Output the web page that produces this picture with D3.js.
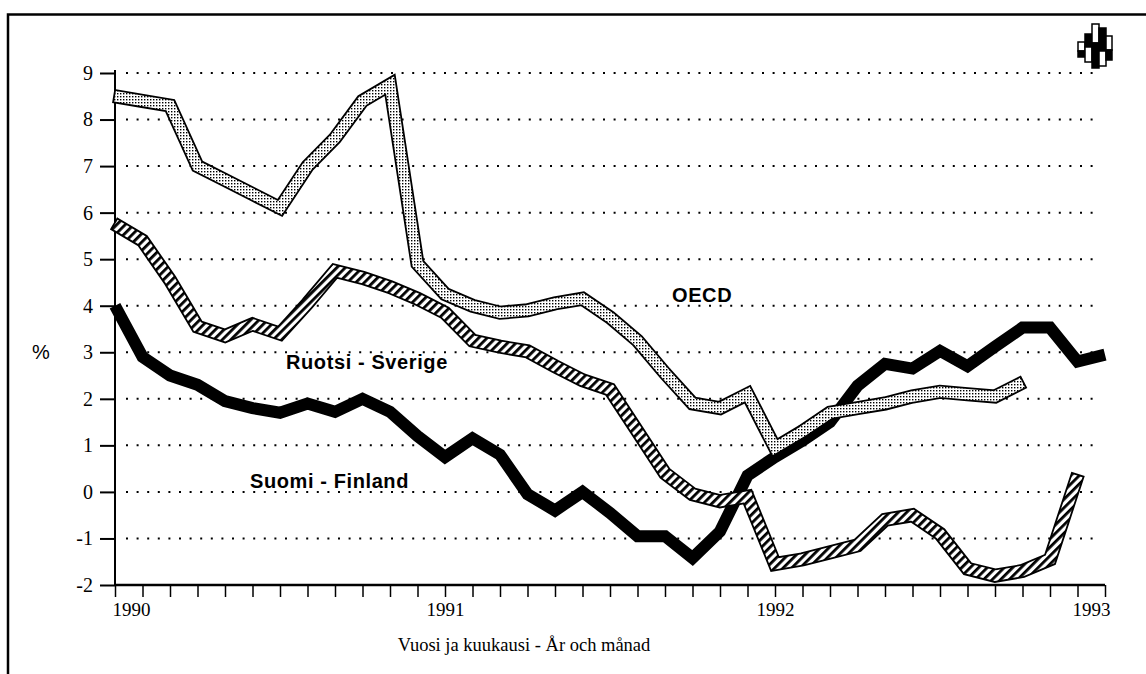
<!DOCTYPE html>
<html>
<head>
<meta charset="utf-8">
<script src="https://cdn.jsdelivr.net/npm/d3@7/dist/d3.min.js"></script>
<style>
  body { margin: 0; background: #fff; }
</style>
</head>
<body>
<div id="chart"></div>
<script>
// monthly values, Jan 1990 ... Jan 1993
const years = [1990, 1991, 1992, 1993];
const yTicks = [-2, -1, 0, 1, 2, 3, 4, 5, 6, 7, 8, 9];
const gridValues = [-1, 0, 1, 2, 3, 4, 5, 6, 7, 8, 9];

const suomi = [4.0, 2.9, 2.5, 2.3, 1.95, 1.8, 1.7, 1.9, 1.72, 2.0, 1.72, 1.2,
  0.75, 1.15, 0.8, -0.05, -0.4, 0.0, -0.45, -0.95, -0.95, -1.42, -0.85, 0.35,
  0.75, 1.1, 1.5, 2.28, 2.75, 2.65, 3.03, 2.7, 3.12, 3.53, 3.53, 2.8, 2.95];

const ruotsi = [5.75, 5.4, 4.55, 3.55, 3.35, 3.6, 3.4, 4.05, 4.75, 4.6, 4.4, 4.15,
  3.85, 3.25, 3.12, 3.02, 2.7, 2.4, 2.2, 1.3, 0.4, -0.05, -0.2, -0.1,
  -1.55, -1.45, -1.3, -1.15, -0.6, -0.5, -0.9, -1.65, -1.8, -1.7, -1.45, 0.35];

const oecd = [8.5, 8.4, 8.3, 7.0, 6.7, 6.4, 6.1, 7.0, 7.6, 8.4, 8.75, 4.9,
  4.25, 4.0, 3.85, 3.9, 4.05, 4.15, 3.75, 3.25, 2.55, 1.9, 1.8, 2.1,
  0.95, 1.3, 1.7, 1.8, 1.9, 2.05, 2.15, 2.1, 2.05, 2.35];

const seriesLabels = [
  { text: "OECD", x: 672, y: 302 },
  { text: "Ruotsi - Sverige", x: 286, y: 369 },
  { text: "Suomi - Finland", x: 250, y: 488 }
];

const width = 1146;
const height = 674;
const serif = "'Liberation Serif', 'Times New Roman', serif";
const sans = "'Liberation Sans', Arial, sans-serif";

let svg = d3.select("#chart")
  .append("svg")
  .attr("width", width)
  .attr("height", height)
  .style("background-color", "white");

let x = d3.scaleLinear().domain([0, 36]).range([115, 1105]);
let y = d3.scaleLinear().domain([-2, 9]).range([585, 73]);

// patterns
let defs = svg.append("defs");
let dots = defs.append("pattern")
  .attr("id", "dots")
  .attr("patternUnits", "userSpaceOnUse")
  .attr("width", 3)
  .attr("height", 3);
dots.append("rect").attr("width", 3).attr("height", 3).attr("fill", "#fff");
dots.append("rect").attr("width", 1.4).attr("height", 1.4).attr("fill", "#000");

let hatch = defs.append("pattern")
  .attr("id", "hatch")
  .attr("patternUnits", "userSpaceOnUse")
  .attr("width", 6)
  .attr("height", 6)
  .attr("patternTransform", "rotate(-45)");
hatch.append("rect").attr("width", 6).attr("height", 6).attr("fill", "#fff");
hatch.append("rect").attr("width", 6).attr("height", 2.8).attr("fill", "#000");

// frame
svg.append("rect")
  .attr("x", 8)
  .attr("y", 14.5)
  .attr("width", 1200)
  .attr("height", 720)
  .attr("fill", "none")
  .attr("stroke", "#000")
  .attr("stroke-width", 2.5);

// dotted grid
svg.append("g")
  .selectAll("line")
  .data(gridValues)
  .enter()
  .append("line")
  .attr("x1", 126)
  .attr("x2", 1100)
  .attr("y1", (d) => y(d))
  .attr("y2", (d) => y(d))
  .attr("stroke", "#000")
  .attr("stroke-width", 2)
  .attr("stroke-dasharray", "2 8.6");

// y axis
let yAxis = d3.axisLeft(y)
  .tickValues(yTicks)
  .tickSize(15)
  .tickPadding(7)
  .tickFormat((d) => d);
let gY = svg.append("g")
  .attr("transform", "translate(115,0)")
  .call(yAxis);
gY.select(".domain").attr("stroke-width", 2).attr("d", "M0,70V585");
gY.selectAll(".tick line").attr("stroke-width", 2);
gY.selectAll(".tick text")
  .attr("font-family", serif)
  .attr("font-size", 20)
  .attr("fill", "#000");

// x axis, one tick per month
let xAxis = d3.axisBottom(x)
  .tickValues(d3.range(0, 37))
  .tickSize(12)
  .tickPadding(6)
  .tickFormat((d) => (d % 12 === 0 ? years[d / 12] : ""));
let gX = svg.append("g")
  .attr("transform", "translate(0,585)")
  .call(xAxis);
gX.select(".domain").attr("stroke-width", 2.5).attr("d", "M115,0H1105");
gX.selectAll(".tick line").attr("stroke-width", 1.5);
gX.selectAll(".tick text")
  .attr("font-family", serif)
  .attr("font-size", 19)
  .attr("fill", "#000")
  .attr("text-anchor", (d) => (d === 0 ? "start" : d === 36 ? "end" : "middle"))
  .attr("dx", (d) => (d === 0 ? -3 : d === 36 ? 5 : 0));

svg.append("text")
  .attr("x", 524)
  .attr("y", 651)
  .attr("text-anchor", "middle")
  .attr("font-family", serif)
  .attr("font-size", 18.5)
  .text("Vuosi ja kuukausi - År och månad");

svg.append("text")
  .attr("x", 41)
  .attr("y", 359)
  .attr("text-anchor", "middle")
  .attr("font-family", sans)
  .attr("font-size", 20)
  .text("%");

// lines
let line = d3.line().x((d, i) => x(i)).y((d) => y(d));

// outline path is stretched a bit past both ends so the ribbon ends get a border
let outlinePath = (data, ext) => {
  let pts = data.map((d, i) => [x(i), y(d)]);
  let stretch = (a, b) => {
    let dx = a[0] - b[0], dy = a[1] - b[1];
    let len = Math.hypot(dx, dy);
    return [a[0] + (dx / len) * ext, a[1] + (dy / len) * ext];
  };
  pts[0] = stretch(pts[0], pts[1]);
  pts[pts.length - 1] = stretch(pts[pts.length - 1], pts[pts.length - 2]);
  return d3.line()(pts);
};

let ribbon = (data, fill, w) => {
  svg.append("path")
    .attr("d", outlinePath(data, 1.8))
    .attr("fill", "none")
    .attr("stroke", "#000")
    .attr("stroke-width", w + 3.6)
    .attr("stroke-linejoin", "miter")
    .attr("stroke-miterlimit", 3);
  svg.append("path")
    .attr("d", line(data))
    .attr("fill", "none")
    .attr("stroke", fill)
    .attr("stroke-width", w)
    .attr("stroke-linejoin", "miter")
    .attr("stroke-miterlimit", 3);
};

svg.append("path")
  .attr("d", line(suomi))
  .attr("fill", "none")
  .attr("stroke", "#000")
  .attr("stroke-width", 12)
  .attr("stroke-linejoin", "miter")
  .attr("stroke-miterlimit", 3);

ribbon(ruotsi, "url(#hatch)", 10.5);
ribbon(oecd, "url(#dots)", 10.5);

// series labels
svg.append("g")
  .selectAll("text")
  .data(seriesLabels)
  .enter()
  .append("text")
  .attr("x", (d) => d.x)
  .attr("y", (d) => d.y)
  .attr("font-family", sans)
  .attr("font-weight", "bold")
  .attr("font-size", 20)
  .attr("letter-spacing", 0.6)
  .text((d) => d.text);

// logo in the corner
let logo = svg.append("g").attr("transform", "translate(1078,20)");
let logoCols = [
  { x: 0, w: 7, top: 22, mid: 31, bot: 37 },
  { x: 7, w: 7, top: 14, mid: 27, bot: 42 },
  { x: 14, w: 7, top: 4, mid: 23, bot: 48 },
  { x: 21, w: 7, top: 8, mid: 31, bot: 46 },
  { x: 28, w: 6, top: 16, mid: 30, bot: 40 }
];
logoCols.forEach((c, i) => {
  logo.append("rect")
    .attr("x", c.x).attr("y", c.top)
    .attr("width", c.w).attr("height", c.mid - c.top)
    .attr("fill", i % 2 ? "#000" : "#fff")
    .attr("stroke", "#000").attr("stroke-width", 1.5);
  logo.append("rect")
    .attr("x", c.x).attr("y", c.mid)
    .attr("width", c.w).attr("height", c.bot - c.mid)
    .attr("fill", i % 2 ? "#fff" : "#000")
    .attr("stroke", "#000").attr("stroke-width", 1.5);
});
</script>
</body>
</html>
